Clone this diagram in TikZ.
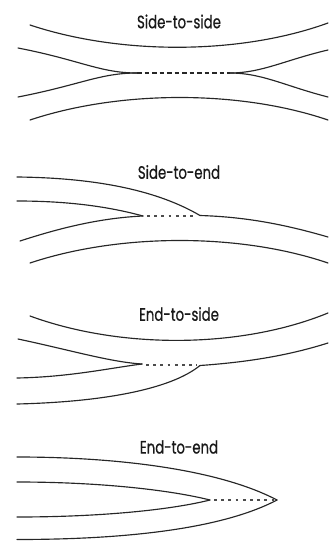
\documentclass[tikz,border=0pt]{standalone}
\usepackage{fontspec}
\setmainfont{Poppins}[FakeBold=0.7]
\begin{document}
\begin{tikzpicture}[x=1pt,y=-1pt,
  strand/.style={line width=1.15pt,draw=black!85,line cap=round},
  gapdash/.style={line width=1.5pt,draw=black!85,dash pattern=on 4.5pt off 3pt},
  gapdot/.style={line width=2pt,draw=black!70,dash pattern=on 2.8pt off 4.4pt},
  title/.style={inner sep=0pt,text=black!90,font=\fontsize{18}{20}\selectfont,xscale=0.74}]
\useasboundingbox (0,0) rectangle (330,541);

% ---- Side-to-side ----
\node[title] (t1) at (179,21.5) {Side-to-side};
\coordinate (a1) at (137,73);
\coordinate (b1) at (230,73);
\draw[strand] (30,25) .. controls (120,55) and (240,55) .. (328,23);
\draw[strand] (30,120) .. controls (120,90) and (240,90) .. (328,120);
\draw[strand] (18,48) .. controls (80,60) and (100,73) .. (a1);
\draw[strand] (18,97) .. controls (80,85) and (100,73) .. (a1);
\draw[strand] (b1) .. controls (262,73) and (285,60) .. (328,50);
\draw[strand] (b1) .. controls (262,73) and (285,86) .. (328,97);
\draw[gapdash] (a1) -- (b1);

% ---- Side-to-end ----
\node[title] (t2) at (179,172) {Side-to-end};
\coordinate (a2) at (143,216);
\coordinate (b2) at (200,215.5);
\draw[strand] (17,177) .. controls (110,178) and (165,195) .. (b2);
\draw[strand] (b2) .. controls (250,217) and (290,226) .. (328,237);
\draw[strand] (17,201) .. controls (70,201) and (110,207) .. (a2);
\draw[strand] (20,241) .. controls (60,228) and (100,218) .. (a2);
\draw[gapdot] (147,216) -- (197,216);
\draw[strand] (30,263) .. controls (120,233) and (240,233) .. (328,263);

% ---- End-to-side ----
\node[title] (t3) at (179,314) {End-to-side};
\coordinate (a3) at (142,364);
\coordinate (b3) at (200,365.5);
\draw[strand] (30,316) .. controls (120,349) and (240,349) .. (328,313);
\draw[strand] (18,339) .. controls (70,350) and (110,362) .. (a3);
\draw[strand] (17,378) .. controls (70,377) and (110,368) .. (a3);
\draw[gapdot] (146,364.5) -- (197,364.5);
\draw[strand] (b3) .. controls (250,362) and (290,355) .. (328,343);
\draw[strand] (17,404) .. controls (100,402) and (170,390) .. (b3);

% ---- End-to-end ----
\node[title] (t4) at (179,447) {End-to-end};
\coordinate (a4) at (210,500);
\coordinate (b4) at (277,500);
\draw[strand] (17,457) .. controls (120,457) and (220,470) .. (b4);
\draw[strand] (17,539.5) .. controls (120,539.5) and (220,530) .. (b4);
\draw[strand] (17,482) .. controls (100,482) and (170,490) .. (a4);
\draw[strand] (17,517) .. controls (100,517) and (170,510) .. (a4);
\draw[gapdot] (214,500) -- (274,500);
\end{tikzpicture}
\end{document}
